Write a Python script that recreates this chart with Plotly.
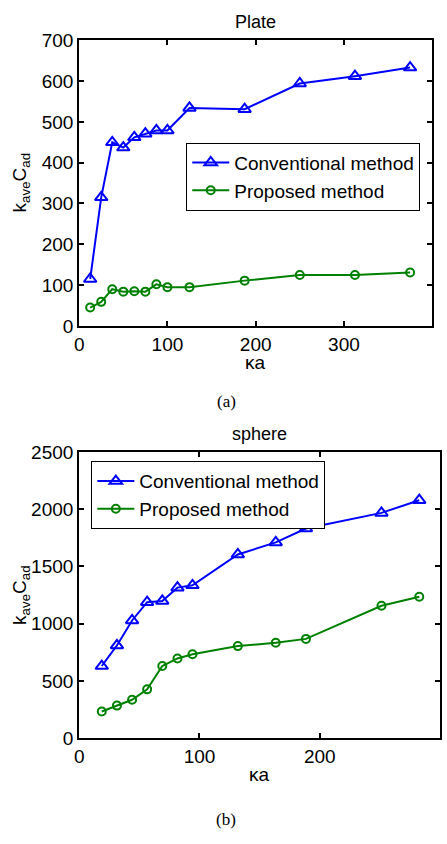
import plotly.graph_objects as go

# Plate: normalised kappa*a and averaged constant
plate_ka = [12.5, 25, 37.5, 50, 62.5, 75, 87.5, 100, 125, 187.5, 250, 312.5, 375]
plate_conventional = [115, 315, 450, 437, 462, 471, 479, 479, 534, 531, 594, 612, 633]
plate_proposed = [45, 59, 90, 84, 85, 84, 102, 95, 95, 111, 125, 125, 131]

# Sphere
sphere_ka = [18.8, 31.4, 44.0, 56.5, 69.1, 81.7, 94.2, 131.9, 163.4, 188.5, 251.3, 282.7]
sphere_conventional = [630, 810, 1028, 1188, 1199, 1315, 1335, 1605, 1710, 1832, 1968, 2079]
sphere_proposed = [233, 284, 335, 426, 630, 696, 733, 804, 833, 867, 1157, 1236]

series_names = ["Conventional method", "Proposed method"]

W, H = 447, 844
BLUE = "rgb(0,0,255)"
GREEN = "rgb(0,128,0)"
SANS = "Liberation Sans, Arial, sans-serif"
SERIF = "Liberation Serif, Times New Roman, serif"


def px_x(p):
    return p / W


def px_y(p):
    return 1 - p / H


fig = go.Figure()

panels = [
    ("x", "y", "legend", plate_ka, plate_conventional, plate_proposed),
    ("x2", "y2", "legend2", sphere_ka, sphere_conventional, sphere_proposed),
]
for xa, ya, lg, ka, conv, prop in panels:
    fig.add_trace(go.Scatter(
        x=ka, y=conv, name=series_names[0], mode="lines+markers",
        xaxis=xa, yaxis=ya, legend=lg,
        line=dict(color=BLUE, width=2),
        marker=dict(symbol="triangle-up-open", size=11, color=BLUE,
                    line=dict(color=BLUE, width=2)),
    ))
    fig.add_trace(go.Scatter(
        x=ka, y=prop, name=series_names[1], mode="lines+markers",
        xaxis=xa, yaxis=ya, legend=lg,
        line=dict(color=GREEN, width=2),
        marker=dict(symbol="circle-open", size=8, color=GREEN,
                    line=dict(color=GREEN, width=2)),
    ))

axis_common = dict(
    showline=True, linecolor="black", linewidth=2, mirror="ticks",
    ticks="inside", ticklen=5, tickwidth=1.5, tickcolor="black",
    showgrid=False, zeroline=False,
    tickfont=dict(family=SANS, size=19, color="black"),
)

legend_common = dict(
    xanchor="left", yanchor="top", bgcolor="white", bordercolor="black",
    borderwidth=1, tracegroupgap=0, itemwidth=37,
    font=dict(family=SANS, size=19, color="black"),
)

fig.update_layout(
    width=W, height=H,
    margin=dict(l=0, r=0, t=0, b=0),
    paper_bgcolor="white", plot_bgcolor="white",
    showlegend=True,
    xaxis=dict(axis_common, domain=[px_x(75), px_x(432)], range=[0, 400],
               tickvals=[0, 100, 200, 300, 400], anchor="y"),
    yaxis=dict(axis_common, domain=[px_y(324), px_y(31)], range=[0, 700],
               tickvals=list(range(0, 701, 100)), anchor="x"),
    xaxis2=dict(axis_common, domain=[px_x(75), px_x(440)], range=[0, 300],
                tickvals=[0, 100, 200, 300], anchor="y2"),
    yaxis2=dict(axis_common, domain=[px_y(746.7), px_y(453.3)], range=[0, 2500],
                tickvals=list(range(0, 2501, 500)), anchor="x2"),
    legend=dict(legend_common, x=px_x(183.3), y=px_y(136)),
    legend2=dict(legend_common, x=px_x(87.3), y=px_y(462.7)),
)

texts = [
    ("Plate", 253.5, 12, 18, SANS, 0),
    ("sphere", 257.5, 435, 18, SANS, 0),
    ("κa", 253.5, 361, 19, SANS, 0),
    ("κa", 257.5, 784, 19, SANS, 0),
    ("k<sub>ave</sub>C<sub>ad</sub>", 16, 177, 19, SANS, -90),
    ("k<sub>ave</sub>C<sub>ad</sub>", 16, 600, 19, SANS, -90),
    ("(a)", 224, 402, 17, SERIF, 0),
    ("(b)", 224, 830, 17, SERIF, 0),
]
for txt, x, y, size, fam, ang in texts:
    fig.add_annotation(
        text=txt, x=px_x(x), y=px_y(y), xref="paper", yref="paper",
        xanchor="center", yanchor="middle", showarrow=False, textangle=ang,
        font=dict(family=fam, size=size, color="black"),
    )

fig.write_html("out.html", config={"displayModeBar": False})
